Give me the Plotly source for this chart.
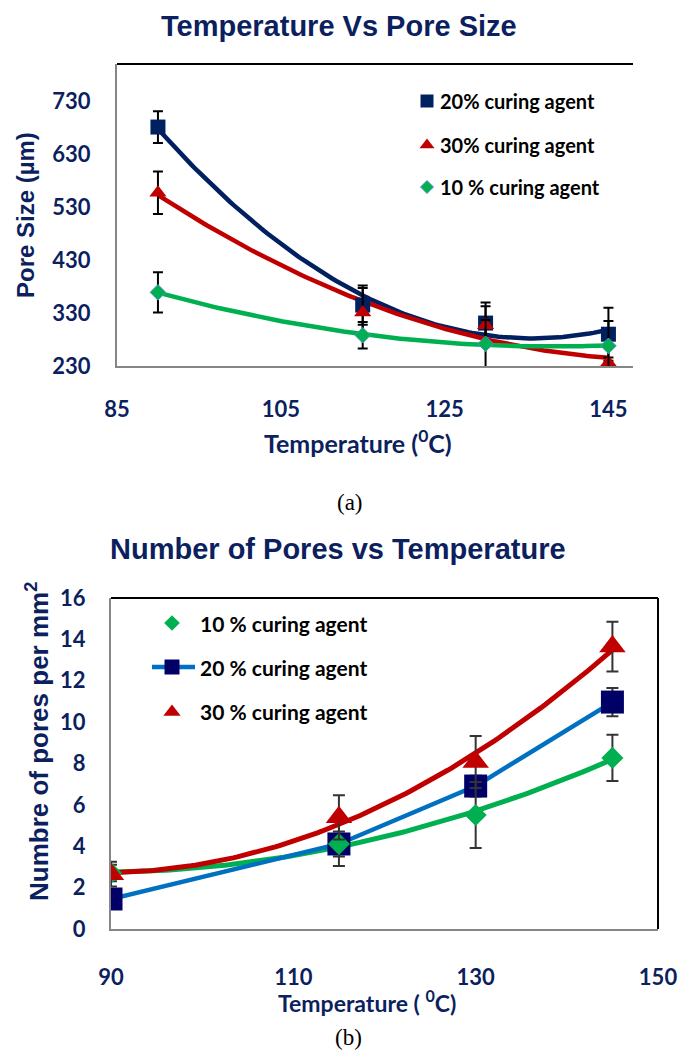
import numpy as np
import plotly.graph_objects as go

W, H = 678, 1055

# ---- (a) pore size vs curing temperature ----
temp_a = [90, 115, 130, 145]
pore_20 = [681, 345, 311, 290]
pore_20_err = [30, 37, 39, 50]
pore_30 = [557, 331, 307, 236]
pore_30_err = [40, 46, 36, 10]
pore_10 = [369, 288, 272, 268]
pore_10_err = [38, 25, 45, 47]
xticks_a = [85, 105, 125, 145]
yticks_a = [230, 330, 430, 530, 630, 730]

# ---- (b) pore density vs curing temperature ----
temp_b = [90, 115, 130, 145]
count_10 = [2.71, 4.11, 5.51, 8.27]
count_10_err = [0.4, 1.07, 1.6, 1.12]
count_20 = [1.45, 4.11, 6.91, 10.97]
count_20_err = [0.4, 0.6, 0.5, 0.68]
count_30 = [2.65, 5.40, 8.07, 13.65]
count_30_err = [0.6, 1.07, 1.26, 1.2]
xticks_b = [90, 110, 130, 150]
yticks_b = [0, 2, 4, 6, 8, 10, 12, 14, 16]

NAVY_TXT = "#0c1f5e"
NAVY = "#002060"
NAVY_SQ = "#000066"
BLUE = "#0070C0"
RED = "#C00000"
GREEN = "#00B050"
GREY = "#868686"
CLEAR = "rgba(0,0,0,0)"

TICK_FONT = dict(family="Lato", size=22, color=NAVY_TXT, weight="bold")


def px_x(v):
    return v / W


def px_y(v):
    return 1 - v / H


def trend(x, y, n=120):
    """Second-order polynomial trendline over the data span."""
    coef = np.polyfit(x, y, 2)
    xs = np.linspace(min(x), max(x), n)
    return xs.tolist(), np.polyval(coef, xs).tolist()


fig = go.Figure()

# ---------- chart (a) ----------
for ys, col in [(pore_20, NAVY), (pore_30, RED), (pore_10, GREEN)]:
    tx, ty = trend(temp_a, ys)
    fig.add_trace(go.Scatter(x=tx, y=ty, mode="lines", xaxis="x", yaxis="y",
                             line=dict(color=col, width=4.5), hoverinfo="skip",
                             showlegend=False))

err_a = dict(type="data", thickness=2, width=5, color="black")
fig.add_trace(go.Scatter(x=temp_a, y=pore_20, mode="markers", xaxis="x", yaxis="y",
                         marker=dict(symbol="square", size=15, color=NAVY),
                         error_y=dict(array=pore_20_err, **err_a), showlegend=False))
fig.add_trace(go.Scatter(x=temp_a, y=pore_30, mode="markers", xaxis="x", yaxis="y",
                         marker=dict(symbol="triangle-up", size=15, color=RED),
                         error_y=dict(array=pore_30_err, **err_a), showlegend=False))
fig.add_trace(go.Scatter(x=temp_a, y=pore_10, mode="markers", xaxis="x", yaxis="y",
                         marker=dict(symbol="diamond", size=12, color=GREEN,
                                     line=dict(color="#5b8fc0", width=1)),
                         error_y=dict(array=pore_10_err, **err_a), showlegend=False))

# ---------- chart (b) ----------
for ys, col in [(count_10, GREEN), (count_30, RED)]:
    tx, ty = trend(temp_b, ys)
    fig.add_trace(go.Scatter(x=tx, y=ty, mode="lines", xaxis="x2", yaxis="y2",
                             line=dict(color=col, width=5), hoverinfo="skip",
                             showlegend=False))

err_b = dict(type="data", thickness=2, width=6, color="#333333")
fig.add_trace(go.Scatter(x=temp_b, y=count_20, mode="lines+markers", xaxis="x2", yaxis="y2",
                         line=dict(color=BLUE, width=4.5),
                         marker=dict(symbol="square", size=23, color=NAVY_SQ),
                         error_y=dict(array=count_20_err, **err_b), showlegend=False))
fig.add_trace(go.Scatter(x=temp_b, y=count_10, mode="markers", xaxis="x2", yaxis="y2",
                         marker=dict(symbol="diamond", size=17, color=GREEN),
                         error_y=dict(array=count_10_err, **err_b), showlegend=False))
fig.add_trace(go.Scatter(x=temp_b, y=count_30, mode="markers", xaxis="x2", yaxis="y2",
                         marker=dict(symbol="triangle-up", size=23, color=RED),
                         error_y=dict(array=count_30_err, **err_b), showlegend=False))

# ---------- legend keys (pixel overlay) ----------
keys = [
    # chart (a)
    (427, 101, "square", 13, NAVY, None),
    (427, 145, "triangle-up", 13, RED, None),
    (427, 187, "diamond", 10, GREEN, "#5b8fc0"),
    # chart (b)
    (172, 623, "diamond", 12, GREEN, None),
    (172, 667, "square", 15, NAVY_SQ, None),
    (172, 712, "triangle-up", 15, RED, None),
]
fig.add_trace(go.Scatter(x=[152, 195], y=[667, 667], mode="lines", xaxis="x3", yaxis="y3",
                         line=dict(color=BLUE, width=4.5), hoverinfo="skip", showlegend=False))
for kx, ky, sym, sz, col, edge in keys:
    mk = dict(symbol=sym, size=sz, color=col)
    if edge:
        mk["line"] = dict(color=edge, width=1)
    fig.add_trace(go.Scatter(x=[kx], y=[ky], mode="markers", xaxis="x3", yaxis="y3",
                             marker=mk, hoverinfo="skip", showlegend=False))

annotations = []


def text(x, y, s, size, family="Lato", color=NAVY_TXT, anchor="center", angle=0, weight="bold"):
    annotations.append(dict(
        x=px_x(x), y=px_y(y), xref="paper", yref="paper", text=s, showarrow=False,
        xanchor=anchor, yanchor="middle", textangle=angle,
        font=dict(family=family, size=size, color=color, weight=weight)))


# titles
text(339, 26, "Temperature Vs Pore Size", 29, family="Liberation Sans")
text(338, 549, "Number of Pores vs Temperature", 29, family="Liberation Sans")
# axis titles
text(358, 441, "Temperature (<sup>0</sup>C)", 25)
text(367, 1001, "Temperature ( <sup>0</sup>C)", 23)
text(25, 215, "Pore Size (µm)", 24, family="Liberation Sans", angle=-90)
text(37, 742, "Numbre of pores per mm<sup>2</sup>", 26, family="Liberation Sans", angle=-90)
# panel labels
text(350, 502, "(a)", 23, family="Liberation Serif", color="black", weight="normal")
text(348, 1037, "(b)", 23, family="Liberation Serif", color="black", weight="normal")
# legend labels
for ly, s in [(101, "20% curing agent"), (145, "30% curing agent"), (187, "10 % curing agent")]:
    text(438, ly, s, 20, color="black", anchor="left")
for ly, s in [(623, "10 % curing agent"), (667, "20 % curing agent"), (711, "30 % curing agent")]:
    text(198, ly, s, 21, color="black", anchor="left")

shapes = [
    # chart (a): dark top frame line
    dict(type="line", xref="x domain", yref="y domain", x0=0, x1=1, y0=1, y1=1,
         line=dict(color="black", width=2)),
    # chart (b): dark top and right frame lines
    dict(type="line", xref="x2 domain", yref="y2 domain", x0=0, x1=1, y0=1, y1=1,
         line=dict(color="black", width=2)),
    dict(type="line", xref="x2 domain", yref="y2 domain", x0=1, x1=1, y0=0, y1=1,
         line=dict(color="black", width=2)),
]


def axis(domain, rng, anchor, tickvals, gap):
    # invisible outside ticks push the labels away from the axis line
    return dict(domain=domain, range=rng, anchor=anchor, tickmode="array",
                tickvals=tickvals, ticks="outside", ticklen=gap, tickcolor=CLEAR,
                showgrid=False, zeroline=False, showline=True, linecolor=GREY,
                linewidth=2, tickfont=TICK_FONT, fixedrange=True, automargin=False)


fig.update_layout(
    width=W, height=H, autosize=False,
    margin=dict(l=0, r=0, t=0, b=0, pad=0),
    # transparent plot areas so the full-page key overlay does not hide the charts
    paper_bgcolor="white", plot_bgcolor=CLEAR,
    showlegend=False,
    xaxis=axis([px_x(117), px_x(633)], [85, 148], "y", xticks_a, 23),
    yaxis=axis([px_y(366), px_y(64)], [230, 800], "x", yticks_a, 20),
    xaxis2=axis([px_x(111), px_x(658)], [90, 150], "y2", xticks_b, 28),
    yaxis2=axis([px_y(929), px_y(598)], [0, 16], "x2", yticks_b, 19),
    xaxis3=dict(domain=[0, 1], range=[0, W], anchor="y3", visible=False,
                fixedrange=True, automargin=False),
    yaxis3=dict(domain=[0, 1], range=[H, 0], anchor="x3", visible=False,
                fixedrange=True, automargin=False),
    annotations=annotations,
    shapes=shapes,
)

fig.write_html("out.html")
